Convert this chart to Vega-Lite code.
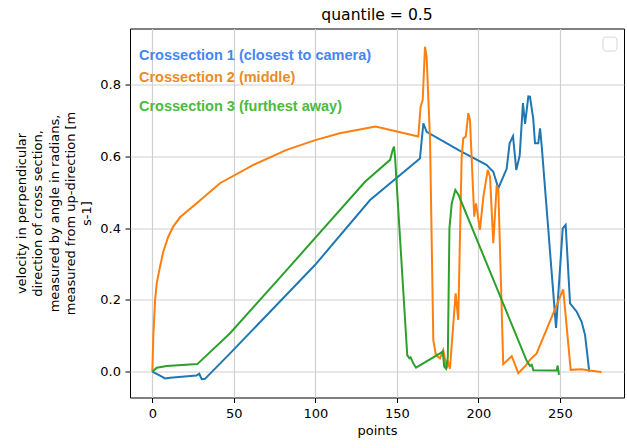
{
  "$schema": "https://vega.github.io/schema/vega-lite/v6.json",
  "width": 494,
  "height": 369,
  "autosize": {"type": "none"},
  "padding": {"left": 130, "top": 28.5, "right": 3, "bottom": 50.5},
  "background": "white",
  "title": {"text": "quantile = 0.5", "font": "DejaVu Sans", "fontSize": 15.6, "fontWeight": "normal", "color": "black", "offset": 5, "anchor": "middle"},
  "config": {
    "view": {"stroke": "black", "strokeWidth": 1},
    "axis": {"labelFont": "DejaVu Sans", "labelFontSize": 13, "labelColor": "black", "titleFont": "DejaVu Sans", "titleFontSize": 13, "titleFontWeight": "normal", "titleColor": "black", "tickColor": "black", "tickSize": 5, "tickWidth": 1, "domain": false, "gridColor": "#d0d0d0", "gridWidth": 1.2, "labelPadding": 4.5, "labelFlush": false}
  },
  "datasets": {
    "lines": [
      {"s": "1", "x": 0, "y": 0}, {"s": "1", "x": 4.7, "y": -0.011}, {"s": "1", "x": 7.8, "y": -0.019}, {"s": "1", "x": 10.9, "y": -0.017}, {"s": "1", "x": 27, "y": -0.011}, {"s": "1", "x": 28.8, "y": -0.006}, {"s": "1", "x": 30.3, "y": -0.021}, {"s": "1", "x": 32.3, "y": -0.02}, {"s": "1", "x": 47.7, "y": 0.051}, {"s": "1", "x": 99.8, "y": 0.297}, {"s": "1", "x": 133.6, "y": 0.478}, {"s": "1", "x": 164.2, "y": 0.594}, {"s": "1", "x": 166.3, "y": 0.692}, {"s": "1", "x": 168.3, "y": 0.668}, {"s": "1", "x": 188.8, "y": 0.615}, {"s": "1", "x": 205, "y": 0.576}, {"s": "1", "x": 209.2, "y": 0.557}, {"s": "1", "x": 212.3, "y": 0.511}, {"s": "1", "x": 217.4, "y": 0.565}, {"s": "1", "x": 219.2, "y": 0.636}, {"s": "1", "x": 221.3, "y": 0.656}, {"s": "1", "x": 223.3, "y": 0.562}, {"s": "1", "x": 225.4, "y": 0.602}, {"s": "1", "x": 227.4, "y": 0.748}, {"s": "1", "x": 228.7, "y": 0.69}, {"s": "1", "x": 230.7, "y": 0.767}, {"s": "1", "x": 231.7, "y": 0.766}, {"s": "1", "x": 233.7, "y": 0.705}, {"s": "1", "x": 234.8, "y": 0.636}, {"s": "1", "x": 236.8, "y": 0.636}, {"s": "1", "x": 237.9, "y": 0.678}, {"s": "1", "x": 238.9, "y": 0.629}, {"s": "1", "x": 247.7, "y": 0.122}, {"s": "1", "x": 251.8, "y": 0.399}, {"s": "1", "x": 253.6, "y": 0.409}, {"s": "1", "x": 256.3, "y": 0.19}, {"s": "1", "x": 260.4, "y": 0.167}, {"s": "1", "x": 263.4, "y": 0.139}, {"s": "1", "x": 265.5, "y": 0.102}, {"s": "1", "x": 268.1, "y": 0.0},
      {"s": "2", "x": 0, "y": 0}, {"s": "2", "x": 0.6, "y": 0.097}, {"s": "2", "x": 1.7, "y": 0.2}, {"s": "2", "x": 2.7, "y": 0.246}, {"s": "2", "x": 4.7, "y": 0.292}, {"s": "2", "x": 6.7, "y": 0.334}, {"s": "2", "x": 9.8, "y": 0.376}, {"s": "2", "x": 12.9, "y": 0.405}, {"s": "2", "x": 17, "y": 0.43}, {"s": "2", "x": 27.2, "y": 0.469}, {"s": "2", "x": 41.5, "y": 0.525}, {"s": "2", "x": 62, "y": 0.576}, {"s": "2", "x": 82.4, "y": 0.618}, {"s": "2", "x": 100, "y": 0.645}, {"s": "2", "x": 115, "y": 0.664}, {"s": "2", "x": 137, "y": 0.683}, {"s": "2", "x": 163.2, "y": 0.655}, {"s": "2", "x": 164.6, "y": 0.738}, {"s": "2", "x": 165.9, "y": 0.757}, {"s": "2", "x": 167.3, "y": 0.905}, {"s": "2", "x": 168.3, "y": 0.877}, {"s": "2", "x": 170.4, "y": 0.645}, {"s": "2", "x": 172.4, "y": 0.088}, {"s": "2", "x": 174, "y": 0.046}, {"s": "2", "x": 176.5, "y": 0.037}, {"s": "2", "x": 178.5, "y": 0.06}, {"s": "2", "x": 180.6, "y": 0.009}, {"s": "2", "x": 181.6, "y": 0.025}, {"s": "2", "x": 182.6, "y": 0.008}, {"s": "2", "x": 184.7, "y": 0.135}, {"s": "2", "x": 186.1, "y": 0.218}, {"s": "2", "x": 187.7, "y": 0.144}, {"s": "2", "x": 189.8, "y": 0.599}, {"s": "2", "x": 190.8, "y": 0.65}, {"s": "2", "x": 192.3, "y": 0.655}, {"s": "2", "x": 193.9, "y": 0.72}, {"s": "2", "x": 194.9, "y": 0.701}, {"s": "2", "x": 197.5, "y": 0.432}, {"s": "2", "x": 198.6, "y": 0.469}, {"s": "2", "x": 201, "y": 0.395}, {"s": "2", "x": 203.1, "y": 0.487}, {"s": "2", "x": 205.8, "y": 0.562}, {"s": "2", "x": 207.2, "y": 0.543}, {"s": "2", "x": 209.2, "y": 0.358}, {"s": "2", "x": 211.3, "y": 0.52}, {"s": "2", "x": 212.3, "y": 0.506}, {"s": "2", "x": 215.3, "y": 0.021}, {"s": "2", "x": 220.5, "y": 0.043}, {"s": "2", "x": 222.5, "y": 0.02}, {"s": "2", "x": 224.5, "y": -0.004}, {"s": "2", "x": 228.7, "y": 0.015}, {"s": "2", "x": 231.7, "y": 0.033}, {"s": "2", "x": 235.8, "y": 0.051}, {"s": "2", "x": 252.1, "y": 0.229}, {"s": "2", "x": 256.7, "y": 0.005}, {"s": "2", "x": 263.4, "y": 0.007}, {"s": "2", "x": 268.1, "y": 0.003}, {"s": "2", "x": 275.7, "y": -0.001},
      {"s": "3", "x": 0, "y": 0}, {"s": "3", "x": 2.7, "y": 0.011}, {"s": "3", "x": 8.8, "y": 0.016}, {"s": "3", "x": 27.6, "y": 0.021}, {"s": "3", "x": 47.7, "y": 0.107}, {"s": "3", "x": 82.4, "y": 0.283}, {"s": "3", "x": 130.5, "y": 0.529}, {"s": "3", "x": 145.9, "y": 0.59}, {"s": "3", "x": 147.5, "y": 0.618}, {"s": "3", "x": 148.3, "y": 0.627}, {"s": "3", "x": 148.9, "y": 0.599}, {"s": "3", "x": 156.4, "y": 0.046}, {"s": "3", "x": 157.7, "y": 0.037}, {"s": "3", "x": 158.5, "y": 0.04}, {"s": "3", "x": 160.1, "y": 0.023}, {"s": "3", "x": 161.8, "y": 0.011}, {"s": "3", "x": 176.5, "y": 0.051}, {"s": "3", "x": 178.2, "y": 0.056}, {"s": "3", "x": 179.1, "y": 0.014}, {"s": "3", "x": 180.2, "y": 0.008}, {"s": "3", "x": 181.3, "y": 0.04}, {"s": "3", "x": 182.3, "y": 0.4}, {"s": "3", "x": 183.7, "y": 0.469}, {"s": "3", "x": 185.9, "y": 0.506}, {"s": "3", "x": 187.9, "y": 0.492}, {"s": "3", "x": 229.7, "y": 0.03}, {"s": "3", "x": 231.7, "y": 0.016}, {"s": "3", "x": 232.8, "y": 0.019}, {"s": "3", "x": 233.8, "y": 0.004}, {"s": "3", "x": 248.1, "y": 0.003}, {"s": "3", "x": 248.7, "y": 0.017}, {"s": "3", "x": 249.5, "y": -0.009}
    ],
    "labels": [
      {"s": "1", "x": -8.2, "y": 0.868, "t": "Crossection 1 (closest to camera)"},
      {"s": "2", "x": -8.2, "y": 0.806, "t": "Crossection 2 (middle)"},
      {"s": "3", "x": -8.2, "y": 0.727, "t": "Crossection 3 (furthest away)"}
    ],
    "legendbox": [{"x": 276.5, "x2": 285.1, "y": 0.932, "y2": 0.893}]
  },
  "layer": [
    {
      "data": {"name": "lines"},
      "mark": {"type": "line", "strokeWidth": 2, "clip": true},
      "encoding": {
        "x": {"field": "x", "type": "quantitative", "scale": {"domain": [-13.7, 289.4], "nice": false, "zero": false}, "axis": {"values": [0, 50, 100, 150, 200, 250], "format": "d", "title": "points", "titlePadding": 4}},
        "y": {"field": "y", "type": "quantitative", "scale": {"domain": [-0.072, 0.956], "nice": false, "zero": false}, "axis": {"values": [0, 0.2, 0.4, 0.6, 0.8], "format": ".1f", "title": ["velocity in perpendicular", "direction of cross section,", "measured by angle in radians,", "measured from up-direction [m", "s-1]"], "titleLineHeight": 16.3, "titlePadding": 6}},
        "color": {"field": "s", "type": "nominal", "scale": {"domain": ["1", "2", "3"], "range": ["#1f77b4", "#ff7f0e", "#2ca02c"]}, "legend": null}
      }
    },
    {
      "data": {"name": "labels"},
      "mark": {"type": "text", "align": "left", "baseline": "alphabetic", "font": "Liberation Sans", "fontWeight": "bold", "fontSize": 14.5},
      "encoding": {
        "x": {"field": "x", "type": "quantitative"},
        "y": {"field": "y", "type": "quantitative"},
        "text": {"field": "t"},
        "color": {"field": "s", "type": "nominal", "scale": {"domain": ["1", "2", "3"], "range": ["#4686f2", "#e88d1f", "#4cba3f"]}, "legend": null}
      }
    },
    {
      "data": {"name": "legendbox"},
      "mark": {"type": "rect", "fill": "white", "stroke": "#d6d6d6", "strokeWidth": 1, "cornerRadius": 3},
      "encoding": {
        "x": {"field": "x", "type": "quantitative"},
        "x2": {"field": "x2"},
        "y": {"field": "y", "type": "quantitative"},
        "y2": {"field": "y2"}
      }
    }
  ],
  "resolve": {"scale": {"color": "independent"}}
}
